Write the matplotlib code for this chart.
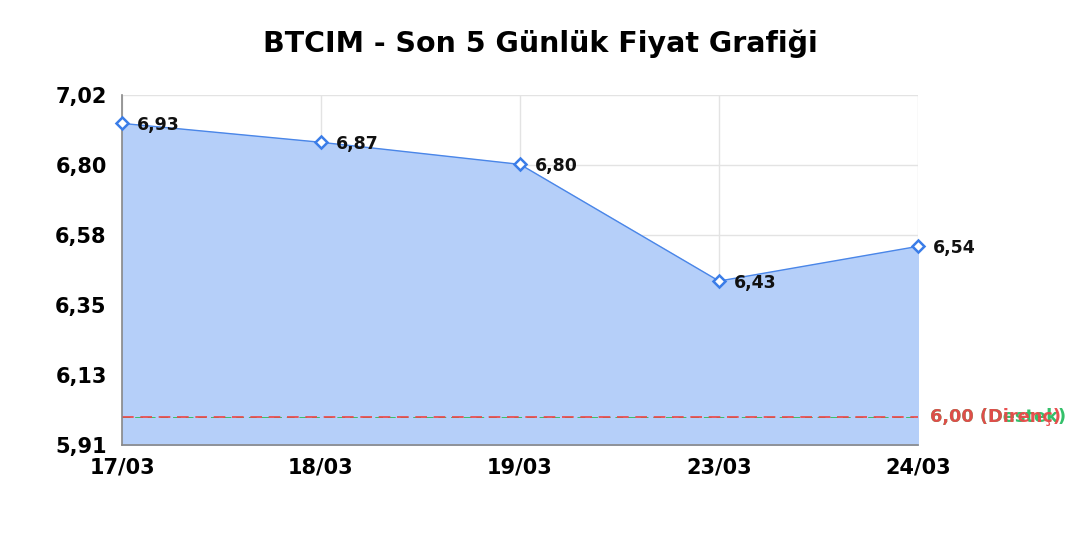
import matplotlib
matplotlib.use("Agg")
import matplotlib.pyplot as plt
import numpy as np

dates = ["17/03", "18/03", "19/03", "23/03", "24/03"]
prices = [6.93, 6.87, 6.80, 6.43, 6.54]
support = 6.00
resistance = 6.00
y_min, y_max = 5.91, 7.02
title = "BTCIM - Son 5 Günlük Fiyat Grafiği"

fig = plt.figure(figsize=(10.8, 5.4), dpi=100)
ax = fig.add_axes([122/1080, 1 - 445/540, (918-122)/1080, (445-95)/540])

x = np.arange(len(dates))
ax.fill_between(x, prices, y_min, color="#b5cff9", zorder=1)
ax.plot(x, prices, color="#4a86e8", lw=1.0, zorder=3)
ax.plot(x, prices, linestyle="none", marker="D", markersize=6.5, markerfacecolor="white",
        markeredgecolor="#3b7de8", markeredgewidth=1.8, zorder=4, clip_on=False)
for xi, p in zip(x, prices):
    ax.annotate(f"{p:.2f}".replace(".", ","), (xi, p), xytext=(11, -1.5), textcoords="offset points",
                ha="left", va="center", fontsize=12.5, fontweight="bold", color="#111111", zorder=5,
                annotation_clip=False)

ax.axhline(support, color="#3ac06a", lw=0.7, ls=(0, (8, 5)), zorder=2)
ax.axhline(resistance, color="#ee4444", lw=1.2, ls=(0, (7, 4)), zorder=2)
ax.annotate(f"{support:.2f}".replace(".", ",") + " (Destek)", (1, support), xycoords=("axes fraction", "data"),
            xytext=(9, 0), textcoords="offset points", ha="left", va="center",
            fontsize=12.8, fontweight="bold", color="#34c06a", annotation_clip=False)
ax.annotate(f"{resistance:.2f}".replace(".", ",") + " (Direnç)", (1, resistance), xycoords=("axes fraction", "data"),
            xytext=(9, 0), textcoords="offset points", ha="left", va="center",
            fontsize=12.8, fontweight="bold", color="#e84848", alpha=0.95, annotation_clip=False)

ax.set_xlim(0, len(dates) - 1)
ax.set_ylim(y_min, y_max)
yt = np.linspace(y_min, y_max, 6)
ax.set_yticks(yt)
ax.set_yticklabels([f"{v:.2f}".replace(".", ",") for v in yt])
ax.set_xticks(x)
ax.set_xticklabels(dates)
ax.tick_params(length=0, labelsize=15)
ax.tick_params(axis="y", pad=11)
ax.tick_params(axis="x", pad=9)
for lab in ax.get_xticklabels() + ax.get_yticklabels():
    lab.set_fontweight("bold")
ax.grid(True, color="#e3e3e3", lw=1.0, zorder=0)
ax.set_axisbelow(True)
for s in ["top", "right"]:
    ax.spines[s].set_visible(False)
ax.spines["left"].set_color("#888888")
ax.spines["bottom"].set_color("#888888")
ax.spines["left"].set_linewidth(1.2)
ax.spines["bottom"].set_linewidth(1.2)

fig.text(540/1080, 1 - 44/540, title, ha="center", va="center", fontsize=20.5, fontweight="bold")
fig.savefig("out.png", dpi=100)
